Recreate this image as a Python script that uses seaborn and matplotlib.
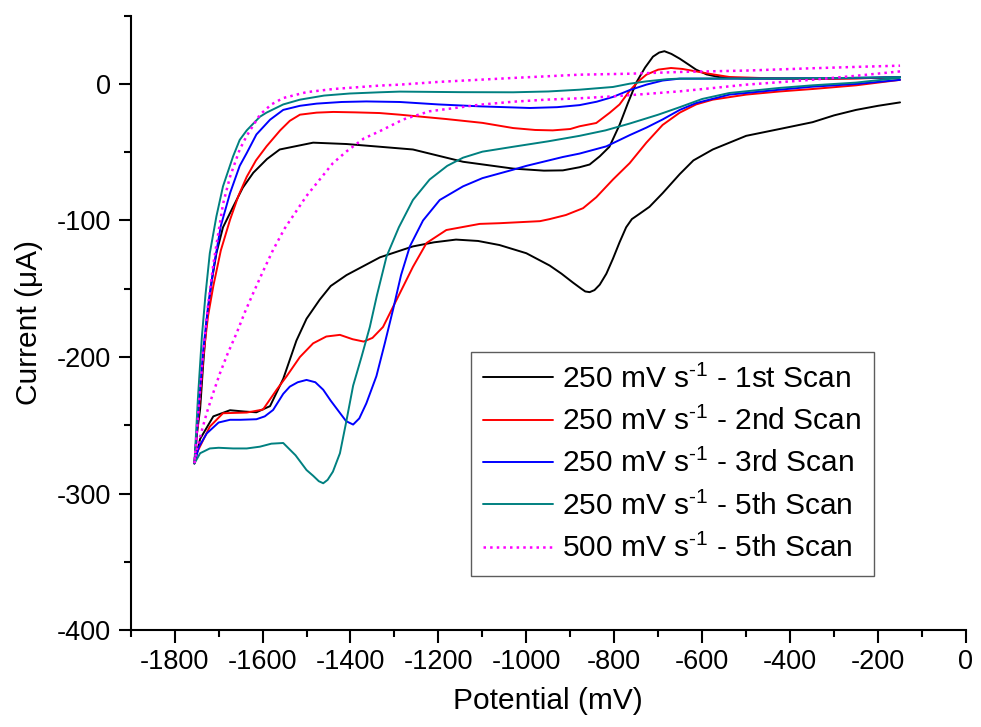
import matplotlib
matplotlib.use("Agg")
import matplotlib.pyplot as plt
import seaborn as sns
import pandas as pd
from matplotlib.ticker import MultipleLocator
from matplotlib.lines import Line2D

# ---------------- data (potential in mV, current in uA) ----------------
# each series: forward (cathodic) sweep from -150 mV to -1755 mV, then reverse sweep back
scan1_x = [-150, -200, -250, -300, -349, -424, -500, -576, -620, -651, -690, -720, -742, -760, -773,
           -788, -803, -818, -833, -845, -856, -866, -875, -894, -920, -947, -1000, -1061, -1110, -1160,
           -1210, -1258, -1333, -1409, -1445, -1470, -1500, -1523, -1553, -1583, -1614, -1640, -1674,
           -1712, -1742, -1755,
           -1750, -1742, -1735, -1727, -1716, -1705, -1690, -1667, -1645, -1621, -1590, -1561, -1485,
           -1409, -1333, -1258, -1144, -1030, -960, -917, -879, -856, -833, -811, -788, -769, -750,
           -730, -712, -698, -686, -670, -651, -630, -614, -590, -561, -500, -424, -300, -197, -150]
scan1_y = [-13.5, -16, -19, -23, -28, -33, -38, -48, -56, -66, -80, -90, -95, -99, -105,
           -116, -128, -139, -147, -151, -152.5, -152, -150, -145.5, -139, -133, -124, -118, -115, -114,
           -116, -119, -127, -140, -148, -158, -172, -188, -216, -236, -240.5, -240, -239,
           -243.5, -260, -278,
           -258, -238, -205, -173, -145, -124, -105, -90, -76, -65, -55, -48, -43,
           -44, -46, -48, -57, -62, -63.5, -63.3, -61, -59, -53, -46, -30, -14, 1,
           12, 20, 23, 24, 22, 18.5, 14, 10.5, 7, 5, 4, 4, 4, 4.5, 5]

scan2_x = [-150, -250, -349, -424, -500, -576, -614, -651, -690, -727, -765, -803, -841, -871,
           -910, -947, -969, -1061, -1106, -1182, -1227, -1258, -1295, -1326, -1350, -1370, -1395,
           -1424, -1455, -1485, -1515, -1545, -1568, -1599, -1636, -1690, -1720, -1750, -1755,
           -1745, -1735, -1724, -1712, -1695, -1674, -1655, -1636, -1615, -1591, -1560, -1538,
           -1515, -1477, -1439, -1390, -1334, -1288, -1182, -1100, -1030, -980, -940, -900, -879,
           -841, -810, -788, -765, -745, -727, -700, -671, -645, -614, -575, -538, -450, -349,
           -250, -150]
scan2_y = [3, -1, -3.7, -5.5, -7.8, -11.5, -15, -21, -30, -43, -58, -70, -83, -91,
           -96, -99, -100.5, -102, -102.5, -107, -116.5, -134, -158, -178, -186, -188.7, -187,
           -183.8, -185, -190, -200, -214, -224, -238.5, -240.7, -241.2, -251, -270.6, -278,
           -240, -200, -170, -148, -122, -99.5, -82, -68, -56, -45.7, -34, -27,
           -22.5, -21, -20.5, -20.8, -21.3, -22.5, -25.7, -28.5, -32.3, -33.7, -34, -33, -31,
           -28.6, -21, -15, -5, 2, 6.8, 10.5, 11.7, 11, 9.2, 7, 5.1, 4.2, 3.7,
           4, 5]

scan3_x = [-150, -250, -349, -424, -538, -614, -651, -690, -727, -765, -818, -879, -917, -1000,
           -1030, -1100, -1144, -1197, -1235, -1265, -1285, -1303, -1322, -1341, -1364, -1380,
           -1394, -1410, -1424, -1445, -1462, -1480, -1500, -1520, -1538, -1553, -1576, -1595,
           -1614, -1650, -1674, -1700, -1727, -1745, -1755,
           -1745, -1735, -1724, -1712, -1695, -1674, -1652, -1636, -1614, -1583, -1553, -1515,
           -1477, -1420, -1364, -1288, -1200, -1106, -992, -930, -879, -840, -803, -765, -727,
           -690, -651, -550, -424, -300, -150]
scan3_y = [3, 0, -2, -4.2, -7.8, -14, -19, -26, -32, -37.5, -45.7, -51, -53.5, -60,
           -62.8, -69, -75, -85, -100, -119, -140, -165, -190, -214, -234, -245,
           -249.5, -247, -241, -232, -224, -218.5, -216.8, -218.5, -221.7, -227, -238.8, -243.5,
           -245.6, -246, -246, -248, -256, -266, -278,
           -235, -195, -163, -136, -104, -80, -60, -50.6, -37, -26.2, -19, -16,
           -14.4, -13.2, -12.8, -13.2, -15, -16.4, -17.6, -17, -15.5, -13, -9.5, -4.5, -0.5,
           2.5, 3.9, 3.9, 4, 4.2, 5]

scan5_x = [-150, -250, -349, -424, -538, -600, -651, -700, -765, -820, -879, -950, -1030, -1100,
           -1144, -1180, -1220, -1258, -1290, -1318, -1340, -1356, -1375, -1394, -1410, -1424,
           -1440, -1452, -1462, -1472, -1485, -1500, -1525, -1553, -1580, -1606, -1636, -1667,
           -1700, -1720, -1742, -1755,
           -1747, -1738, -1730, -1720, -1705, -1690, -1667, -1652, -1636, -1606, -1591, -1553,
           -1515, -1460, -1402, -1334, -1288, -1150, -1030, -950, -879, -803, -765, -727, -680,
           -651, -500, -300, -150]
scan5_y = [4.5, 1, -1, -2.9, -6.6, -11, -17, -22.5, -29, -34, -38, -42, -46, -49.6,
           -54, -60, -70, -85, -105, -126.4, -155, -178, -200, -221, -248, -270.5,
           -284, -290, -292.5, -291, -287, -282.8, -272, -263, -263.5, -265.7, -267, -267,
           -266.5, -267, -270.5, -278,
           -230, -185, -155, -124, -97, -75, -53, -41, -34, -24, -21, -15,
           -11.5, -8.5, -7, -6.1, -5.6, -6, -6.1, -5.5, -4.2, -2.2, 0.2, 1.9, 3.5,
           3.9, 4, 4.3, 5]

fast5_x = [-150, -250, -349, -424, -500, -576, -651, -727, -803, -879, -955, -1030, -1106, -1160,
           -1220, -1280, -1334, -1370, -1409, -1440, -1470, -1500, -1523, -1550, -1576, -1600,
           -1621, -1640, -1659, -1680, -1697, -1713, -1727, -1740, -1750, -1755,
           -1745, -1735, -1724, -1712, -1700, -1690, -1674, -1652, -1636, -1606, -1580, -1553,
           -1500, -1439, -1334, -1288, -1200, -1030, -879, -765, -650, -500, -350, -250, -150]
fast5_y = [9.2, 6, 3.1, 1.3, -0.5, -3, -5.4, -7.3, -9.1, -10.5, -11.5, -13, -15.2, -17.5,
           -20, -26, -34.7, -40, -49.4, -58, -70, -82, -93, -106, -121.5, -138,
           -153, -167, -182.5, -198, -212, -227, -241, -256, -268, -278,
           -236, -196, -162, -132, -108, -88, -68, -48, -38, -22.5, -15, -10.3,
           -6, -3.7, -1.2, -0.5, 1.5, 4.4, 6.8, 7.5, 8.8, 9.8, 11.5, 12.5, 13.4]

labels = [r"250 mV s$^{\text{-1}}$ - 1st Scan", r"250 mV s$^{\text{-1}}$ - 2nd Scan",
          r"250 mV s$^{\text{-1}}$ - 3rd Scan", r"250 mV s$^{\text{-1}}$ - 5th Scan",
          r"500 mV s$^{\text{-1}}$ - 5th Scan"]
xticks = [-1800, -1600, -1400, -1200, -1000, -800, -600, -400, -200, 0]
yticks = [-400, -300, -200, -100, 0]

# ---------------- style ----------------
sns.set_style("ticks")
plt.rcParams['font.family'] = ['Liberation Sans', 'DejaVu Sans']
plt.rcParams['mathtext.fontset'] = 'custom'
plt.rcParams['mathtext.rm'] = 'Liberation Sans'
plt.rcParams['mathtext.it'] = 'Liberation Sans'
plt.rcParams['mathtext.default'] = 'regular'
plt.rcParams['axes.unicode_minus'] = False
plt.rcParams['text.color'] = 'black'
plt.rcParams['axes.labelcolor'] = 'black'

fig = plt.figure(figsize=(9.81, 7.27), dpi=100)
ax = fig.add_axes([0.1332, 0.1334, 0.8515, 0.845])

series = [(scan1_x, scan1_y, "#000000", "-"),
          (scan2_x, scan2_y, "#ff0000", "-"),
          (scan3_x, scan3_y, "#0000ff", "-"),
          (scan5_x, scan5_y, "#008080", "-"),
          (fast5_x, fast5_y, "#ff00ff", ":")]

handles = []
for (xs, ys, col, ls), lab in zip(series, labels):
    df = pd.DataFrame({"Potential": xs, "Current": ys})
    lw = 1.4 if ls == "-" else 1.8
    sns.lineplot(data=df, x="Potential", y="Current", sort=False, estimator=None,
                 color=col, linestyle=ls, linewidth=lw, ax=ax)
    handles.append(Line2D([0], [0], color=col, linestyle=ls, linewidth=lw, label=lab))

ax.set_xlim(-1900, 0)
ax.set_ylim(-400, 50)
ax.set_xticks(xticks)
ax.set_yticks(yticks)
ax.xaxis.set_minor_locator(MultipleLocator(100))
ax.yaxis.set_minor_locator(MultipleLocator(50))
ax.tick_params(which='major', direction='out', length=9, width=1.5, labelsize=19.5, pad=5,
               color='black', labelcolor='black')
ax.tick_params(which='minor', direction='out', length=5, width=1.5, color='black')
for s in ['top', 'right']:
    ax.spines[s].set_visible(False)
for s in ['left', 'bottom']:
    ax.spines[s].set_linewidth(1.5)
    ax.spines[s].set_color('black')

ax.set_xlabel("Potential (mV)", fontsize=21.5, labelpad=8, color='black')
ax.set_ylabel("Current (μA)", fontsize=21.5, labelpad=10, color='black')

leg = ax.legend(handles=handles, loc='upper left', bbox_to_anchor=(0.407, 0.4525),
                fontsize=21.5, frameon=True, fancybox=False, edgecolor='#333333',
                handlelength=2.35, handletextpad=0.3, borderpad=0.42, labelspacing=0.44,
                borderaxespad=0, labelcolor='black')
leg.get_frame().set_linewidth(1.0)

fig.savefig("out.png", dpi=100)
